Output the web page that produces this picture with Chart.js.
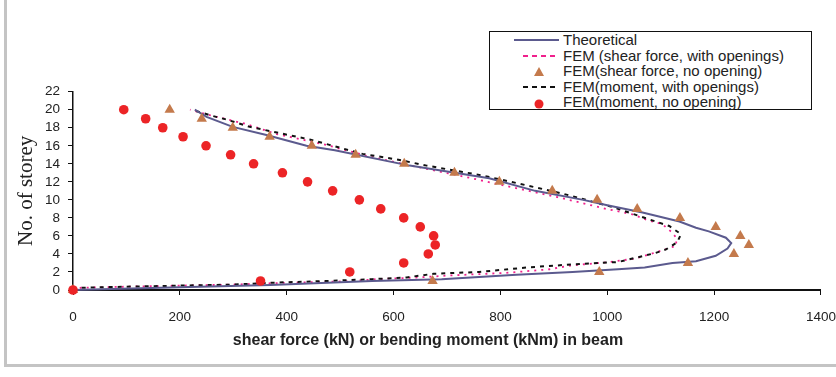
<!DOCTYPE html>
<html lang="en">
<head>
  <meta charset="UTF-8">
  <title>Shear force / bending moment in beam</title>
  <script src="https://cdn.jsdelivr.net/npm/chart.js"></script>
  <style>
    html, body { margin: 0; padding: 0; background: #fff; }
    #wrap { position: relative; width: 836px; height: 377px; overflow: hidden; background: #fff; }
    #frame { position: absolute; left: 4px; top: -10px; width: 900px; height: 374px;
             border-left: 3px solid #c4c4c4; border-bottom: 3px solid #c4c4c4; }
    #chart { position: absolute; left: 0; top: 0; }
    #xtitle { position: absolute; left: 0; width: 856px; top: 331px; text-align: center;
              font-family: "Liberation Sans", Arial, sans-serif; font-size: 16px; font-weight: bold; color: #222; }
    #legend { position: absolute; left: 489px; top: 31px; width: 321px; height: 77px;
              border: 1.5px solid #111; background: #fff;
              font-family: "Liberation Sans", Arial, sans-serif; font-size: 15px; color: #222; }
    #legend .row { position: absolute; left: 0; height: 16px; line-height: 16px; white-space: nowrap; }
    #legend svg { position: absolute; left: 22px; top: 0; }
    #legend span { position: absolute; left: 73px; top: 0; }
  </style>
</head>
<body>
  <div id="wrap">
    <div id="frame"></div>
    <canvas id="chart" width="850" height="377"></canvas>
    <div id="xtitle">shear force (kN) or bending moment (kNm) in beam</div>
    <div id="legend"></div>
  </div>

  <script>
    // storey numbers for the FEM point series
    const storeys = [0, 1, 2, 3, 4, 5, 6, 7, 8, 9, 10, 11, 12, 13, 14, 15, 16, 17, 18, 19, 20];

    // FEM shear force, no opening (triangles)
    const shearNoOpen = [0, 673, 985, 1151, 1237, 1265, 1249, 1203, 1136, 1056, 981, 897, 798, 714, 620, 529, 447, 368, 299, 241, 181];
    // FEM moment, no opening (red dots)
    const momentNoOpen = [0, 351, 518, 619, 665, 678, 675, 650, 619, 576, 536, 486, 439, 392, 338, 295, 249, 206, 168, 136, 95];

    // Theoretical curve
    const theoVal = [0, 200, 370, 560, 690, 830, 935, 1020, 1070, 1122, 1166, 1203, 1225, 1232, 1222, 1190, 1166, 1135, 1066, 1000, 955, 865, 779, 630, 490, 437, 362, 299, 250, 228];
    const theoSto = [0, 0.3, 0.55, 1.0, 1.2, 1.7, 2.0, 2.3, 2.5, 3.0, 3.2, 3.8, 4.6, 5.2, 5.8, 6.5, 6.9, 7.6, 8.6, 9.4, 10.0, 11.0, 12.4, 13.8, 15.5, 16.0, 17.2, 18.1, 19.2, 20.0];

    // FEM shear force, with openings (pink dotted)
    const shearOpenVal = [0, 15, 125, 300, 370, 518, 568, 649, 700, 811, 892, 929, 1004, 1054, 1092, 1129, 1129, 1121, 1103, 1073, 1047, 998, 907, 822, 746, 649, 555, 467, 381, 325, 256, 219];
    const shearOpenSto = [0, 0.25, 0.4, 0.6, 0.75, 0.97, 1.2, 1.4, 1.6, 1.9, 2.3, 2.7, 3.1, 3.5, 4.2, 4.9, 5.8, 6.4, 7.3, 7.8, 8.4, 9.0, 10.3, 11.4, 12.4, 13.6, 14.8, 16.2, 17.3, 18.4, 19.4, 20.0];

    // FEM moment, with openings (black dashed)
    const momentOpenVal = [0, 15, 125, 300, 370, 475, 560, 625, 675, 760, 850, 950, 1020, 1055, 1090, 1110, 1131, 1138, 1116, 1060, 1010, 916, 835, 766, 729, 662, 605, 542, 480, 443, 387, 331, 288, 262, 222];
    const momentOpenSto = [0, 0.25, 0.4, 0.6, 0.8, 1.0, 1.2, 1.4, 1.8, 2.0, 2.5, 2.9, 3.1, 3.6, 4.1, 4.5, 5.3, 6.2, 7.1, 8.2, 9.2, 10.7, 11.8, 12.7, 13.1, 13.8, 14.5, 15.1, 16.1, 16.7, 17.4, 18.1, 18.9, 19.3, 20.0];

    const xMin = 0, xMax = 1400, xStep = 200;
    const yMin = 0, yMax = 22, yStep = 2;

    function pts(xs, ys) {
      return xs.map((v, i) => ({ x: v, y: ys[i] }));
    }

    const datasets = [
      {
        label: 'Theoretical',
        data: pts(theoVal, theoSto),
        showLine: true, borderColor: '#5b5a8e', borderWidth: 2, pointRadius: 0,
        order: 2, clip: false
      },
      {
        label: 'FEM (shear force, with openings)',
        data: pts(shearOpenVal, shearOpenSto),
        showLine: true, borderColor: '#f0208c', borderWidth: 1.8, borderDash: [2, 5], pointRadius: 0,
        legendDash: [5, 4],
        order: 4, clip: false
      },
      {
        label: 'FEM(shear force, no opening)',
        data: pts(shearNoOpen, storeys),
        showLine: false, pointStyle: 'triangle', pointRadius: 6,
        backgroundColor: '#c47a4c', borderColor: '#c47a4c', borderWidth: 0,
        order: 1, clip: false
      },
      {
        label: 'FEM(moment, with openings)',
        data: pts(momentOpenVal, momentOpenSto),
        showLine: true, borderColor: '#111', borderWidth: 2, borderDash: [4, 5], pointRadius: 0,
        legendDash: [5, 4],
        order: 3, clip: false
      },
      {
        label: 'FEM(moment, no opening)',
        data: pts(momentNoOpen, storeys),
        showLine: false, pointStyle: 'circle', pointRadius: 4.8,
        backgroundColor: '#ec2426', borderColor: '#ec2426', borderWidth: 0,
        order: 0, clip: false
      }
    ];

    const tickFont = { family: '"Liberation Sans", Arial, sans-serif', size: 13.5 };

    new Chart(document.getElementById('chart'), {
      type: 'scatter',
      data: { datasets: datasets },
      options: {
        responsive: false,
        animation: false,
        layout: { padding: { top: 91.7, right: 25, bottom: 0, left: 0 } },
        plugins: { legend: { display: false }, tooltip: { enabled: false } },
        scales: {
          x: {
            type: 'linear', min: xMin, max: xMax,
            ticks: { stepSize: xStep, color: '#222', font: tickFont, padding: 14, maxRotation: 0,
                     autoSkip: false, callback: v => String(v) },
            grid: { drawOnChartArea: false, tickLength: 5, color: '#111', lineWidth: 1 },
            border: { color: '#111', width: 2 },
            afterFit: s => { s.height = 87; }
          },
          y: {
            type: 'linear', min: yMin, max: yMax,
            ticks: { stepSize: yStep, color: '#222', font: tickFont, padding: 8,
                     autoSkip: false, callback: v => String(v) },
            grid: { drawOnChartArea: false, tickLength: 5, color: '#111', lineWidth: 1 },
            border: { color: '#111', width: 1.5 },
            title: {
              display: true, text: 'No. of storey',
              color: '#222', font: { family: '"Liberation Serif", "Times New Roman", serif', size: 21 },
              padding: { top: 14, bottom: 0 }
            },
            afterFit: s => { s.width = 73; }
          }
        }
      }
    });

    // legend drawn as html so it can sit inside the plot like the original
    const legend = document.getElementById('legend');
    const rowTop = [0, 15.5, 31, 46.5, 62];
    datasets.forEach((ds, i) => {
      const row = document.createElement('div');
      row.className = 'row';
      row.style.top = rowTop[i] + 'px';
      let mark;
      if (ds.showLine) {
        const x1 = i === 0 ? 2 : 11;
        const dash = ds.legendDash ? ` stroke-dasharray="${ds.legendDash.join(' ')}"` : '';
        mark = `<line x1="${x1}" y1="8" x2="47" y2="8" stroke="${ds.borderColor}" stroke-width="${ds.borderWidth}"${dash}/>`;
      } else if (ds.pointStyle === 'triangle') {
        mark = `<polygon points="27,4 32,13 22,13" fill="${ds.backgroundColor}"/>`;
      } else {
        mark = `<circle cx="27" cy="10" r="4.5" fill="${ds.backgroundColor}"/>`;
      }
      row.innerHTML = `<svg width="50" height="16">${mark}</svg><span>${ds.label}</span>`;
      legend.appendChild(row);
    });
  </script>
</body>
</html>
